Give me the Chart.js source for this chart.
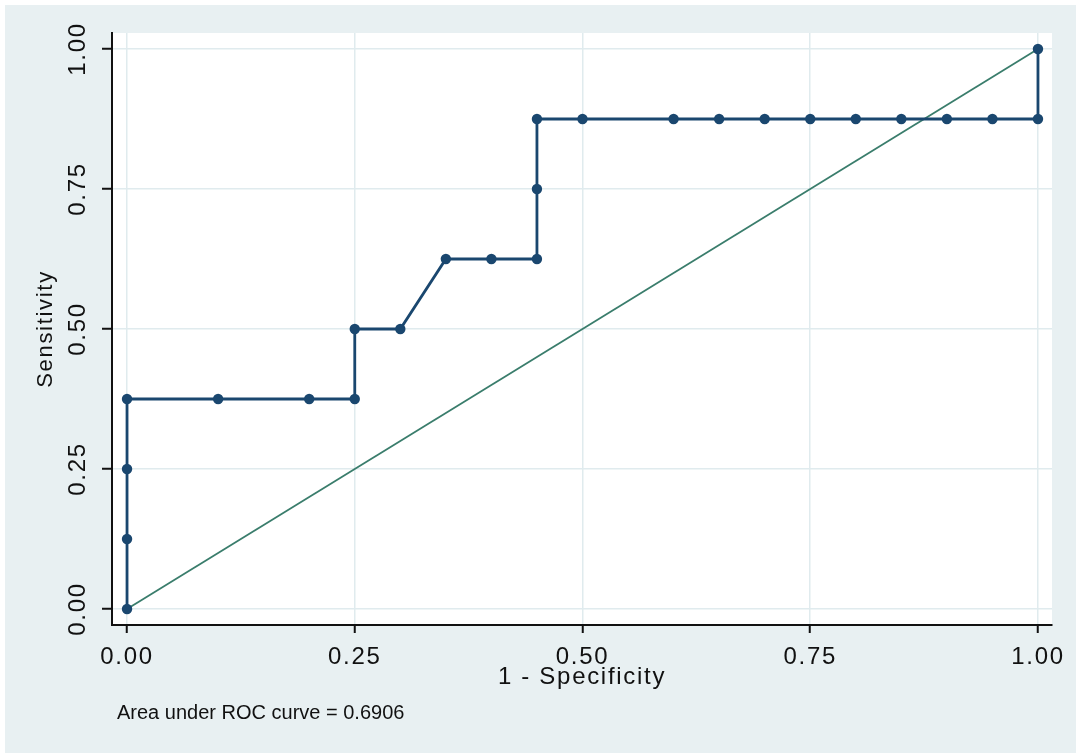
<!DOCTYPE html>
<html>
<head>
<meta charset="utf-8">
<title>ROC curve</title>
<script src="https://cdn.jsdelivr.net/npm/chart.js@4.4.1/dist/chart.umd.min.js"></script>
<style>
  html, body { margin: 0; padding: 0; background: #ffffff; }
  canvas { display: block; }
</style>
</head>
<body>
<canvas id="roc" width="1076" height="753"></canvas>
<script>
// ROC coordinates: 1 - specificity (x) and sensitivity (y) at each cut-off
const oneMinusSpecificity = [0, 0, 0, 0, 0.1, 0.2, 0.25, 0.25, 0.3, 0.35, 0.4, 0.45, 0.45, 0.45,
                             0.5, 0.6, 0.65, 0.7, 0.75, 0.8, 0.85, 0.9, 0.95, 1, 1];
const sensitivity = [0, 0.125, 0.25, 0.375, 0.375, 0.375, 0.375, 0.5, 0.5, 0.625, 0.625, 0.625, 0.75, 0.875,
                     0.875, 0.875, 0.875, 0.875, 0.875, 0.875, 0.875, 0.875, 0.875, 0.875, 1];

// chance line
const chanceX = [0, 1];
const chanceY = [0, 1];

// axis ticks
const tickValues = [0, 0.25, 0.5, 0.75, 1];
const tickLabels = ['0.00', '0.25', '0.50', '0.75', '1.00'];

const xTitle = '1 - Specificity';
const yTitle = 'Sensitivity';
const aucNote = 'Area under ROC curve = 0.6906';

const NAVY = '#1a476f';
const TEAL = '#3a7d6c';
const FRAME = '#e8f0f2';
const GRID = '#e0ebee';
const INK = '#111111';
const FONT = '"Liberation Sans", Arial, sans-serif';
const SPACING = '1.7px';

const toPoints = (xs, ys) => xs.map((x, i) => ({ x, y: ys[i] }));

// background panels, letter spacing for axis text, and the AUC note
const frame = {
  id: 'frame',
  beforeUpdate(chart) { chart.ctx.letterSpacing = SPACING; },
  beforeDraw(chart) {
    const { ctx, chartArea: a, width, height } = chart;
    ctx.save();
    ctx.fillStyle = '#ffffff';
    ctx.fillRect(0, 0, width, height);
    ctx.fillStyle = FRAME;
    ctx.fillRect(5, 5, width - 5, height - 5);
    ctx.fillStyle = '#ffffff';
    ctx.fillRect(a.left, a.top, a.right - a.left, a.bottom - a.top);
    ctx.restore();
    ctx.letterSpacing = SPACING;
  },
  afterDraw(chart) {
    const { ctx, chartArea: a } = chart;
    ctx.save();
    ctx.letterSpacing = '0px';
    ctx.font = '20px ' + FONT;
    ctx.fillStyle = INK;
    ctx.textAlign = 'left';
    ctx.textBaseline = 'alphabetic';
    ctx.fillText(aucNote, a.left + 5, 719);
    ctx.restore();
  }
};

new Chart(document.getElementById('roc'), {
  type: 'scatter',
  data: {
    datasets: [
      {
        label: 'ROC',
        data: toPoints(oneMinusSpecificity, sensitivity),
        showLine: true,
        borderColor: NAVY,
        borderWidth: 2.8,
        backgroundColor: NAVY,
        pointBackgroundColor: NAVY,
        pointBorderWidth: 0,
        pointRadius: 5.2,
        tension: 0
      },
      {
        label: 'Reference',
        data: toPoints(chanceX, chanceY),
        showLine: true,
        borderColor: TEAL,
        borderWidth: 1.8,
        pointRadius: 0,
        tension: 0
      }
    ]
  },
  options: {
    responsive: false,
    animation: false,
    events: [],
    devicePixelRatio: 1,
    layout: { autoPadding: false, padding: { top: 33, right: 24, left: 0, bottom: 0 } },
    plugins: { legend: { display: false }, tooltip: { enabled: false } },
    scales: {
      x: {
        type: 'linear',
        min: -0.0165,
        max: 1.0154,
        afterBuildTicks: s => { s.ticks = tickValues.map(v => ({ value: v })); },
        afterFit: s => { s.height = 128; },
        grid: { color: GRID, lineWidth: 1.5, drawTicks: true, tickLength: 8, tickColor: INK, tickWidth: 2 },
        border: { display: true, color: INK, width: 2 },
        ticks: {
          callback: (v, i) => tickLabels[i],
          maxRotation: 0,
          minRotation: 0,
          padding: 10,
          color: INK,
          font: { family: FONT, size: 24 }
        },
        title: {
          display: true,
          text: xTitle,
          color: INK,
          font: { family: FONT, size: 24 },
          padding: { top: 0, bottom: 61 }
        }
      },
      y: {
        type: 'linear',
        min: -0.0286,
        max: 1.0286,
        afterBuildTicks: s => { s.ticks = tickValues.map(v => ({ value: v })); },
        afterFit: s => { s.width = 112; },
        grid: { color: GRID, lineWidth: 1.5, drawTicks: true, tickLength: 10, tickColor: INK, tickWidth: 2 },
        border: { display: true, color: INK, width: 2 },
        ticks: {
          callback: (v, i) => tickLabels[i],
          minRotation: 90,
          maxRotation: 90,
          crossAlign: 'center',
          padding: -3,
          color: INK,
          font: { family: FONT, size: 24 }
        },
        title: {
          display: true,
          text: yTitle,
          color: INK,
          font: { family: FONT, size: 22 },
          padding: { top: 33, bottom: 0 }
        }
      }
    }
  },
  plugins: [frame]
});
</script>
</body>
</html>
